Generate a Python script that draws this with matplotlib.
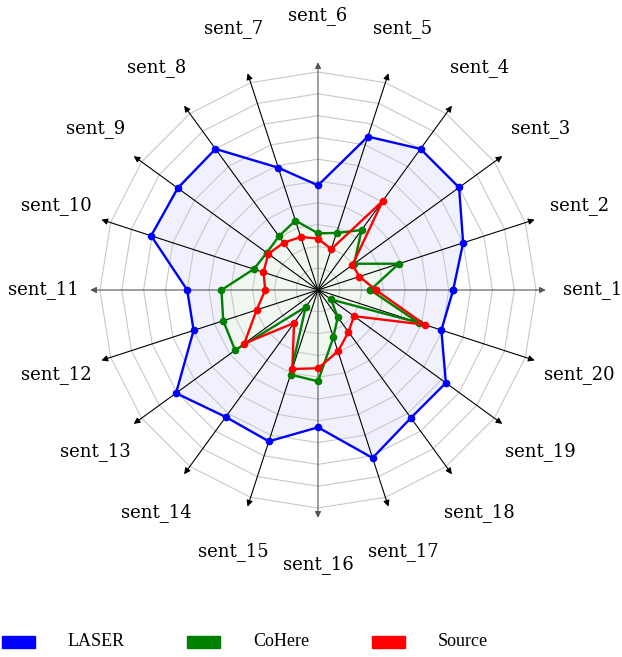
import numpy as np
import matplotlib.pyplot as plt
from matplotlib.patches import Rectangle

labels = ["sent_%d" % i for i in range(1, 21)]
laser = [0.62, 0.70, 0.80, 0.80, 0.74, 0.48, 0.59, 0.80, 0.795, 0.805,
         0.60, 0.60, 0.805, 0.72, 0.73, 0.63, 0.81, 0.725, 0.725, 0.595]
cohere = [0.24, 0.39, 0.205, 0.34, 0.275, 0.26, 0.335, 0.305, 0.29, 0.31,
          0.443, 0.457, 0.47, 0.096, 0.408, 0.419, 0.228, 0.154, 0.074, 0.485]
source = [0.265, 0.20, 0.195, 0.505, 0.197, 0.236, 0.256, 0.268, 0.282, 0.263,
          0.242, 0.296, 0.418, 0.187, 0.381, 0.359, 0.296, 0.238, 0.204, 0.516]
series_names = ["LASER", "CoHere", "Source"]
colors = ["#0000ff", "#008000", "#ff0000"]

n = len(labels)
ang = np.deg2rad(np.arange(n) * 360.0 / n)

fig = plt.figure(figsize=(6.22, 6.57), dpi=100)
ax = fig.add_axes([0, 0, 1, 1])
s = 218.0
ax.set_xlim(-318 / s, (622 - 318) / s)
ax.set_ylim(-(657 - 290) / s, 290 / s)
ax.axis("off")

closed = np.append(ang, ang[0])

# filled areas first (opaque light tints)
fills = ["#f1f1fd", "#f0f7f0", None]
for vals, fc in zip([laser, cohere, source], fills):
    if fc is None:
        continue
    v = np.array(vals + vals[:1])
    ax.fill(v * np.cos(closed), v * np.sin(closed), color=fc, lw=0, zorder=0.5)

# spider web grid
for lev in np.arange(0.1, 1.01, 0.1):
    ax.plot(lev * np.cos(closed), lev * np.sin(closed), color="#c8c8c8", lw=0.8, zorder=1)

# spokes with arrows
for i, a in enumerate(ang):
    c = "#555555" if i % 5 == 0 else "black"
    ax.annotate("", xy=(1.045 * np.cos(a), 1.045 * np.sin(a)), xytext=(0, 0),
                arrowprops=dict(arrowstyle="-|>", lw=0.8, color=c, mutation_scale=9,
                                shrinkA=0, shrinkB=0), zorder=2)
    ax.text(1.26 * np.cos(a), 1.26 * np.sin(a), labels[i], ha="center", va="center",
            fontsize=13, family="DejaVu Serif")

for vals, col in zip([laser, cohere, source], colors):
    v = np.array(vals + vals[:1])
    ax.plot(v * np.cos(closed), v * np.sin(closed), color=col, lw=1.7,
            marker="o", markersize=4.5, zorder=3)

# legend
lx = [2, 187, 372]
for name, col, px in zip(series_names, colors, lx):
    fig.add_artist(Rectangle((px / 622, 1 - 648 / 657), 33 / 622, 12 / 657,
                             transform=fig.transFigure, color=col))
    fig.text((px + 66) / 622, 1 - 642 / 657, name, va="center", ha="left",
             fontsize=13, family="Liberation Serif")

fig.savefig("out.png", dpi=100)
